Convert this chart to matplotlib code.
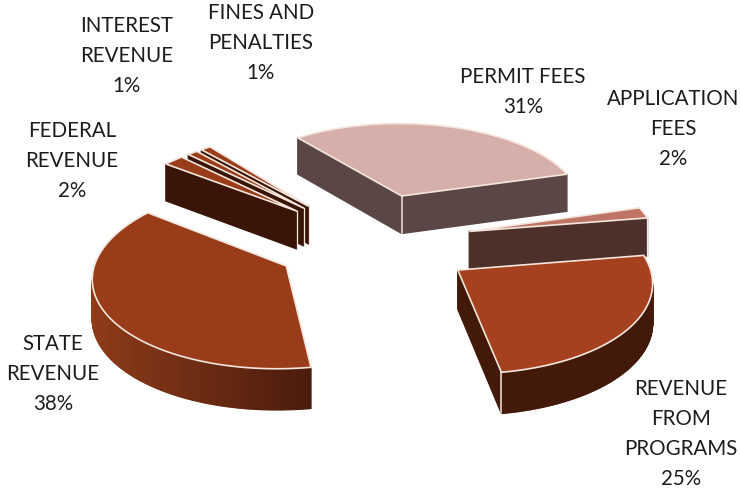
import numpy as np
import matplotlib
matplotlib.use('Agg')
import matplotlib.pyplot as plt
from matplotlib.patches import Polygon

# data, clockwise from the first slice
names = ['PERMIT FEES', 'APPLICATION\nFEES', 'REVENUE\nFROM\nPROGRAMS', 'STATE\nREVENUE',
         'FEDERAL\nREVENUE', 'INTEREST\nREVENUE', 'FINES AND\nPENALTIES']
shares = [31, 2, 25, 38, 2, 1, 1]

# styles
explode = [0.58, 0.55, 0.53, 0.52, 0.55, 0.55, 0.55]
nudge_x = [-0.01, -0.01, 0.015, 0, 0, 0, 0]
top_colors = ['#D6AFAA', '#BF7566', '#A5411E', '#983C1A', '#983C1A', '#983C1A', '#983C1A']
wall_left = ['#5A4645', '#4E302B', '#431A0A', '#8E3B1A', '#3A1507', '#3A1507', '#3A1507']
wall_right = ['#5A4645', '#4E302B', '#431A0A', '#4A1C0C', '#3A1507', '#3A1507', '#3A1507']
label_xy = [(523, 92), (673, 129), (681, 434), (53, 374), (72, 161), (127, 56), (261, 43)]
draw_order = [0, 1, 6, 5, 4, 3, 2]
edge = '#F4E6DC'

start = -38.0
cx, cy = 372.0, 242.0
A, B, k = 187.0, 87.8, 0.097
depth = 38.5


def project(X, Y):
    w = 1 + k * Y
    return cx + A * X / w, cy - B * Y / w, w


def mix(c1, c2, f):
    a = np.array(matplotlib.colors.to_rgb(c1))
    b = np.array(matplotlib.colors.to_rgb(c2))
    return a + (b - a) * f


fig = plt.figure(figsize=(7.4, 4.91), dpi=100)
ax = fig.add_axes([0, 0, 1, 1])
ax.set_xlim(0, 740)
ax.set_ylim(491, 0)
ax.axis('off')

edges = np.concatenate([[0], np.cumsum(shares)]) * 3.6 + start

for i in draw_order:
    t0, t1 = edges[i], edges[i + 1]
    mid = np.radians((t0 + t1) / 2)
    ex, ey = explode[i] * np.sin(mid) + nudge_x[i], explode[i] * np.cos(mid)
    t = np.radians(np.linspace(t0, t1, max(int(t1 - t0) * 2, 8)))
    X = np.concatenate([[ex], ex + np.sin(t)])
    Y = np.concatenate([[ey], ey + np.cos(t)])
    sx, sy, w = project(X, Y)
    d = depth / np.sqrt(w)

    # walls first, only the ones that face down on the screen
    n = len(sx)
    visible = []
    for a in range(n):
        b = (a + 1) % n
        if sx[b] < sx[a]:
            visible.append((a, b))
    lo, hi = sx[1:].min(), sx[1:].max()
    for a, b in visible:
        f = ((sx[a] + sx[b]) / 2 - lo) / max(hi - lo, 1)
        c = mix(wall_left[i], wall_right[i], np.clip(f, 0, 1))
        quad = [(sx[a], sy[a]), (sx[b], sy[b]), (sx[b], sy[b] + d[b]), (sx[a], sy[a] + d[a])]
        ax.add_patch(Polygon(quad, closed=True, facecolor=c, edgecolor=c, lw=1.0))

    # light outline on the top, it only shows against the dark parts
    ax.add_patch(Polygon(np.column_stack([sx, sy]), closed=True, facecolor=top_colors[i],
                         edgecolor=edge, lw=1.2))

    # corners between two visible walls
    for a in [0, 1, n - 1]:
        if sx[a] < sx[(a - 1) % n] and sx[(a + 1) % n] < sx[a]:
            ax.plot([sx[a], sx[a]], [sy[a], sy[a] + d[a]], color=edge, lw=1.1)
    # the thin slices have a light line on the wall end as well
    if shares[i] <= 2:
        a = visible[0][0]
        ax.plot([sx[a], sx[a]], [sy[a], sy[a] + d[a]], color=edge, lw=0.9)

for i, name in enumerate(names):
    ax.text(label_xy[i][0], label_xy[i][1], '%s\n%d%%' % (name, shares[i]), ha='center', va='center',
            family='Lato', fontsize=14.8, color='#1c1c1c', linespacing=1.63)

fig.savefig('out.png', dpi=100)
